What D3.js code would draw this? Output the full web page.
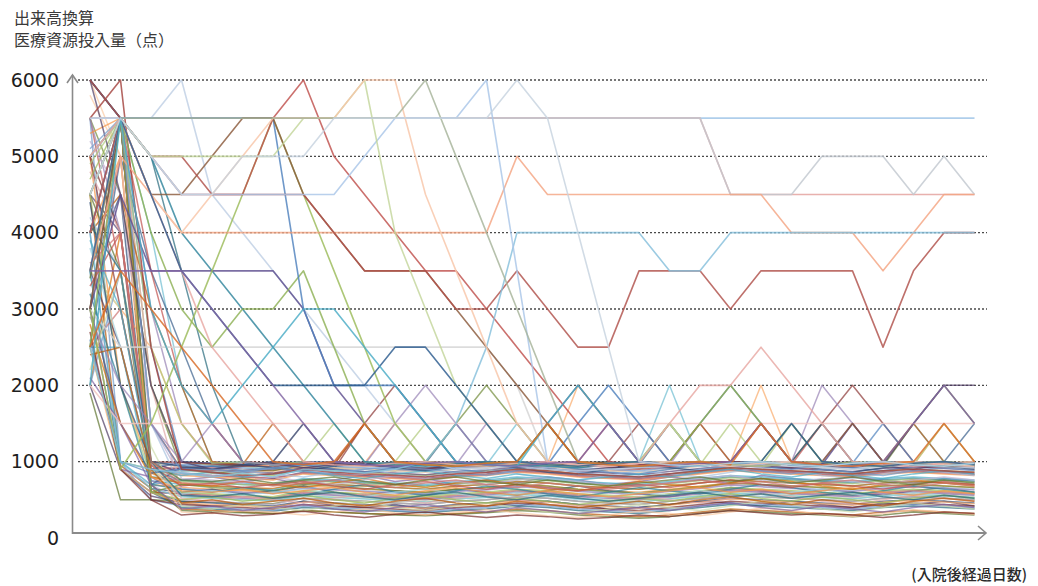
<!DOCTYPE html>
<html>
<head>
<meta charset="utf-8">
<script src="https://cdn.jsdelivr.net/npm/d3@7"></script>
<style>
  html, body { margin: 0; padding: 0; background: #fff; }
  svg { display: block; }
</style>
</head>
<body>
<svg id="chart" width="1038" height="586"></svg>
<script>
// Days since admission (x categories) and y-axis tick values
const days = [1,2,3,4,5,6,7,8,9,10,11,12,13,14,15,16,17,18,19,20,21,22,23,24,25,26,27,28,29,30];
const yTickValues = [0,1000,2000,3000,4000,5000,6000];
const yGridValues = [1000,2000,3000,4000,5000,6000];

// Patients whose resource use stays high for long stretches
const h01 = [5500,5500,5500,5500,5500,5500,5500,5500,5500,5500, 5500,5500,5500,5500,5500,5500,5500,5500,5500,5500, 5500,5500,5500,5500,5500,5500,5500,5500,5500,5500];
const h02 = [5500,5500,5500,5500,5500,5500,5500,5500,5500,5500, 5500,5500,5500,5500,5500,5500,5500,5500,5500,5500, 5500,4500,4500,4500,4500,4500,4500,4500,4500,4500];
const h13 = [5500,5500,5500,5500,5500,5500,5500,5500,5500,5500, 5500,5500,5500,5500,5500,5500,5500,5500,5500,5500, 5500,4500,4500,4500,5000,5000,5000,4500,5000,4500];
const h20 = [3000,2500,2500,2500,2500,2500,2500,2500,2500,2500, 2500,2500,2500,2500,2000,1000,960,940,980,1000, 960,940,980,1000,960,940,980,1000,960,940];
const h21 = [2000,1500,1500,1500,1500,1500,1500,1500,1500,1500, 1500,1500,1500,1500,1500,1500,1500,1500,1500,1500, 1500,1500,1500,1500,1500,1500,1500,1500,1500,1500];
const h03 = [5500,6000,2500,900,860,820,840,900,860,840, 820,800,840,860,900,880,840,820,800,840, 880,920,900,880,860,840,880,900,880,860];
const h04 = [5500,5500,5500,6000,4500,4000,3500,3000,2500,2000, 1500,1000,900,920,940,900,880,900,920,940, 960,980,960,940,920,900,940,960,940,920];
const h05 = [4500,5500,5000,4000,3500,3000,2500,2000,1500,1000, 960,940,980,1000,960,940,920,960,1000,980, 960,1000,1500,1000,960,940,980,1000,960,940];
const h06 = [3000,4500,3500,3500,3500,3500,3500,3000,2000,1500, 1000,980,960,940,980,1000,960,940,980,1000, 960,940,980,1000,960,1500,1000,960,940,980];
const h07 = [2500,5500,4000,3000,2500,3000,3000,3500,2500,1500, 1000,960,940,980,1000,1500,1000,960,980,1000, 1500,2000,1500,1000,960,980,1000,960,980,1000];
const h08 = [3000,900,1500,2500,3500,4500,5500,4500,3500,2500, 1500,1000,960,940,980,960,940,980,1000,1500, 1000,960,940,980,1000,960,940,980,1000,960];
const h09 = [4000,5500,5500,5500,5500,5500,5500,3000,2000,2000, 2000,1500,1000,960,1000,960,1500,2000,1500,1000, 960,980,1000,960,940,980,1000,960,940,980];
const h10 = [3000,5500,4500,4500,5000,5500,5500,4500,4000,3500, 3500,3500,3000,2500,2000,1500,1000,960,940,980, 1000,960,940,980,1000,1500,1000,960,940,960];
const h11 = [4000,5500,5000,4500,4500,4500,5500,6000,5000,4500, 4000,3500,3500,3000,2500,2000,1500,1000,960,940, 980,1000,1500,1000,960,940,980,1000,960,940];
const h12 = [3500,5000,4500,4000,4000,4000,4000,4000,4000,4000, 4000,4000,4000,4000,5000,4500,4500,4500,4500,4500, 4500,4500,4500,4000,4000,4000,3500,4000,4500,4500];
const h14 = [6000,5500,5000,5000,4500,4500,4500,4500,4000,3500, 3500,3500,3000,3000,3500,3000,2500,2500,3500,3500, 3500,3000,3500,3500,3500,3500,2500,3500,4000,4000];
const h15 = [2500,1000,900,850,800,850,800,900,880,850, 900,1000,1500,2500,4000,4000,4000,4000,4000,3500, 3500,4000,4000,4000,4000,4000,4000,4000,4000,4000];
const h16 = [5000,5500,5000,4500,4500,4500,4500,4500,4500,5000, 5500,5500,5500,6000,3500,1000,960,940,980,1000, 960,940,980,1000,960,940,980,1000,960,940];
const h17 = [4500,5500,5000,5000,5000,5000,5000,5500,5500,6000, 4000,3000,2000,1500,1000,960,940,980,1000,1500, 1000,960,940,980,1000,960,940,980,1000,960];
const h18 = [3500,5500,4500,4000,4500,5000,5500,5500,5500,6000, 6000,4500,3500,2500,1500,1000,960,940,980,1000, 960,940,980,1000,960,940,980,1000,960,940];
const h19 = [5000,5500,5500,5500,5500,5500,5500,5500,5500,5500, 5500,6000,5000,4000,3000,2000,1000,960,940,980, 1000,960,940,980,1000,960,940,980,1000,960];
const h22 = [5000,5500,4500,3500,2500,2000,1500,1000,960,940, 980,1000,960,940,980,1000,960,940,980,1500, 2000,2000,2500,2000,1500,1000,960,940,980,1000];
const h23 = [3500,5500,4500,3500,3000,2500,2000,2000,2000,2000, 2500,2500,2000,1500,1000,960,940,980,1000,960, 940,980,1000,1500,1000,960,940,980,1000,960];
const h24 = [2000,5500,3000,2000,1500,2000,2500,3000,3000,2500, 2000,1500,1000,960,940,1500,2000,1500,1000,960, 940,980,1000,960,940,980,1000,960,940,980];
const h25 = [3500,3500,3500,3500,3000,2500,2000,1500,1000,960, 940,980,1000,960,940,980,1000,1500,1000,960, 980,1000,1500,1000,960,940,1000,1500,2000,1500];
const h26 = [2500,3500,3000,2500,2000,1500,1000,960,1000,1500, 1000,960,940,980,1000,1500,1000,960,940,980, 1000,960,1500,1000,960,940,980,1000,1500,1000];
const h27 = [4500,5500,5000,4500,4500,5000,5000,5000,5500,5500, 5500,5500,5500,5500,6000,5500,4000,2500,1000,960, 940,980,1000,960,940,980,1000,960,940,980];

// Patients who settle into the low band after the first days
const l01 = [6000,5500,1000,950,980,960,1000,980,950,960, 980,1000,960,940,980,1000,960,940,960,980, 1000,980,960,980,1000,960,980,960,940,960];
const l02 = [5500,3500,900,920,940,900,880,950,920,900, 880,900,940,920,960,940,900,880,900,920, 960,980,940,920,900,940,960,940,920,950];
const l03 = [4500,5500,850,880,860,840,820,900,880,860, 840,820,860,880,900,880,840,820,800,840, 880,920,900,880,860,840,880,900,880,860];
const l04 = [3000,5500,800,760,800,740,780,700,760,820, 740,780,700,760,720,800,760,700,740,800, 760,720,820,780,740,800,760,720,780,740];
const l05 = [2500,2500,750,700,680,660,640,720,700,680, 660,640,680,700,740,720,680,660,640,680, 720,760,740,720,700,680,720,740,720,700];
const l06 = [4000,5000,700,660,640,620,600,680,660,640, 620,600,640,660,700,680,640,620,600,640, 680,720,700,680,660,640,680,700,680,660];
const l07 = [3500,4500,650,600,640,580,620,680,600,560, 620,580,640,600,560,620,680,620,580,540, 600,660,620,580,640,600,560,620,660,600];
const l08 = [5000,4000,600,580,560,540,520,600,580,560, 540,520,560,580,620,600,560,540,520,560, 600,640,620,600,580,560,600,620,600,580];
const l09 = [1900,500,500,480,470,460,450,520,500,480, 460,440,480,500,540,520,480,460,440,480, 520,560,540,520,500,480,520,540,520,500];
const l10 = [2000,900,550,460,420,440,400,480,430,400, 440,380,430,460,420,480,440,380,400,440, 480,460,420,480,440,400,460,440,480,420];
const l11 = [3500,900,600,400,380,360,350,400,380,360, 350,330,360,380,420,400,360,340,320,360, 400,440,420,400,380,360,400,420,400,380];
const l12 = [4500,950,650,380,360,340,320,360,340,320, 310,300,320,340,380,360,320,300,280,300, 340,380,360,340,320,300,340,360,340,320];
const l13 = [5500,1000,500,420,400,380,360,420,400,380, 360,340,380,400,440,420,380,360,340,380, 420,460,440,420,400,380,420,440,420,400];
const l14 = [2500,3000,950,900,920,940,960,980,960,1500, 1000,950,980,1000,960,940,920,960,1000,980, 960,1000,1500,1000,960,940,980,1000,960,980];
const l15 = [3000,5500,2000,1000,960,940,900,980,960,940, 1000,1500,1000,960,940,980,1000,960,940,980, 1000,960,940,1500,1000,960,980,1000,960,940];
const l16 = [4000,5500,3000,1500,1000,980,960,1000,980,1500, 1000,980,960,1500,1000,960,940,980,1000,960, 1500,1000,960,980,1000,1500,1000,980,960,980];
const l17 = [5000,5500,4000,2000,1000,960,1000,1500,1000,960, 940,980,1000,960,1500,1000,960,980,1000,2000, 1000,980,960,980,1000,960,980,1500,1000,960];
const l18 = [3500,3000,2500,1500,1000,940,960,1000,960,980, 1500,1000,980,960,1000,980,2000,1500,1000,960, 980,1000,2000,1000,960,980,1000,960,1500,1000];
const l19 = [2500,5000,3500,2500,1500,1000,960,980,1000,960, 1000,980,1500,1000,960,980,1000,980,960,1000, 1500,2000,1500,1000,980,960,1000,980,1000,1500];
const l20 = [6000,5500,1500,900,880,860,900,920,900,1500, 2000,1500,1000,940,920,960,980,1000,1500,1000, 960,940,980,1000,1500,2000,1500,1000,960,980];
const l21 = [5500,4500,2000,900,850,870,880,940,920,900, 880,1000,1500,2000,1500,1000,960,940,980,1000, 960,980,1000,1500,1000,960,940,1500,2000,1500];
const l22 = [4500,4000,1000,850,820,800,780,860,840,820, 800,780,820,840,880,860,820,800,780,820, 860,900,880,860,840,820,860,880,860,840];
const l23 = [3000,5500,900,750,720,700,690,760,740,720, 700,680,720,740,780,760,720,700,680,720, 760,800,780,760,740,720,760,780,760,740];
const l24 = [2000,4000,850,700,680,660,650,720,700,680, 660,640,680,700,740,720,680,660,640,680, 720,760,740,720,700,680,720,740,720,700];
const l25 = [5000,5500,1500,650,620,600,580,660,640,620, 600,580,620,640,680,660,620,600,580,620, 660,700,680,660,640,620,660,680,660,640];
const l26 = [4500,5500,2000,600,560,540,520,600,580,560, 540,520,560,580,620,600,560,540,520,560, 600,640,620,600,580,560,600,620,600,580];
const l27 = [3500,3000,1000,550,520,500,480,560,540,520, 500,480,520,540,580,560,520,500,480,520, 560,600,580,560,540,520,560,580,560,540];
const l28 = [4000,900,700,500,480,460,440,520,500,480, 460,440,480,500,540,520,480,460,440,480, 520,560,540,520,500,480,520,540,520,500];
const l29 = [5500,5500,800,880,860,900,940,960,920,900, 880,860,900,920,960,940,900,880,860,900, 940,980,960,940,920,900,940,960,940,920];
const l30 = [6000,5000,1000,920,900,880,860,940,920,900, 880,860,900,920,960,940,900,880,860,900, 940,980,960,940,920,900,940,960,940,920];
const l31 = [3500,5500,2500,1000,980,1000,960,1000,980,960, 940,1000,980,960,1000,1500,1000,960,940,980, 1000,960,980,1000,960,980,1500,1000,980,960];
const l32 = [4500,5500,3500,2000,1500,1000,980,960,1000,980, 960,1000,980,1000,960,980,1000,1500,1000,980, 960,1000,980,960,1500,1000,960,980,1000,960];
const l33 = [2500,1000,900,600,580,560,540,620,600,580, 560,540,580,600,640,620,580,560,540,580, 620,660,640,620,600,580,620,640,620,600];
const l34 = [3000,900,800,560,540,520,500,580,560,540, 520,500,540,560,600,580,540,520,500,540, 580,620,600,580,560,540,580,600,580,560];
const l35 = [4000,1000,700,760,740,720,700,780,760,740, 720,700,740,760,800,780,740,720,700,740, 780,820,800,780,760,740,780,800,780,760];
const l36 = [5000,2000,900,820,800,780,760,840,820,800, 780,760,800,820,860,840,800,780,760,800, 840,880,860,840,820,800,840,860,840,820];
const l37 = [6000,5500,600,480,460,440,420,480,460,440, 420,400,440,460,500,480,440,420,400,440, 480,520,500,480,460,440,480,500,480,460];
const l38 = [5500,5500,500,440,420,400,380,440,420,400, 380,360,400,420,460,440,400,380,360,400, 440,480,460,440,420,400,440,460,440,420];
const l39 = [4500,3500,700,360,340,330,320,360,340,320, 300,290,310,330,360,340,300,280,260,280, 320,360,340,320,300,280,300,340,320,300];
const l40 = [3500,2500,900,1000,980,960,1000,1500,1000,960, 980,1000,960,980,1000,1500,2000,1500,1000,980, 960,980,1000,960,980,1000,960,1500,2000,2000];
const l41 = [5000,5500,5000,3500,2000,1000,960,980,1000,960, 980,1000,960,980,1000,960,980,1000,960,1500, 1000,960,980,1000,1500,1000,960,980,1000,960];
const l42 = [4000,4500,3000,2000,1000,960,1500,1000,960,1500, 1000,980,960,1000,980,960,1000,980,960,1000, 1500,1000,960,980,1000,960,1000,1500,1000,960];
const l43 = [2000,3500,950,960,940,920,900,960,940,920, 900,880,920,940,980,960,920,900,880,920, 960,1000,980,960,940,920,960,980,960,940];
const l44 = [3000,5000,900,840,820,800,790,850,830,810, 790,770,810,830,870,850,810,790,770,810, 850,890,870,850,830,810,850,870,850,830];
const l45 = [4500,2000,800,740,720,700,690,750,730,710, 690,670,710,730,770,750,710,690,670,710, 750,790,770,750,730,710,750,770,750,730];
const l46 = [5500,4000,750,640,620,600,590,650,630,610, 590,570,610,630,670,650,610,590,570,610, 650,690,670,650,630,610,650,670,650,630];
const l47 = [3500,1000,650,540,520,500,490,550,530,510, 490,470,510,530,570,550,510,490,470,510, 550,590,570,550,530,510,550,570,550,530];
const l48 = [2500,900,600,460,440,420,410,470,450,430, 410,390,430,450,490,470,430,410,390,430, 470,510,490,470,450,430,470,490,470,450];
const l49 = [6000,5500,700,920,940,960,980,1000,980,960, 940,920,960,980,1000,980,960,940,920,960, 980,1000,1000,980,960,940,980,1000,980,960];
const l50 = [5000,3000,1000,990,970,950,930,990,970,950, 930,910,950,970,990,970,950,930,910,950, 990,1000,990,970,950,930,970,990,970,950];
const l51 = [4000,5500,600,700,660,640,620,700,680,650, 620,600,640,660,700,680,640,610,590,630, 670,720,700,680,660,640,680,700,680,660];
const l52 = [3000,1500,850,920,900,870,850,920,900,870, 850,830,870,890,930,910,870,850,830,870, 910,950,930,910,890,870,910,930,910,890];
const l53 = [3200,2000,700,640,600,660,620,560,640,700, 600,560,620,680,640,580,540,600,660,620, 580,640,700,660,600,560,620,680,640,600];
const l54 = [2800,1500,800,720,680,740,700,660,720,780, 700,660,720,760,700,640,620,680,740,700, 660,720,780,740,680,640,700,760,720,680];
const l55 = [4200,3500,900,860,820,880,840,800,860,900, 840,800,860,900,840,780,760,820,880,840, 800,860,920,880,820,780,840,900,860,820];
const l56 = [4800,4000,1000,520,480,540,500,460,520,580, 500,460,520,560,500,440,420,480,540,500, 460,520,580,540,480,440,500,560,520,480];
const l57 = [2200,3500,1200,420,380,440,400,360,420,480, 400,360,420,460,400,340,320,380,440,400, 360,420,480,440,380,340,400,460,420,380];
const l58 = [5200,4500,1500,780,760,720,800,740,700,760, 820,780,740,700,760,800,740,700,680,720, 780,820,760,720,780,740,700,760,800,760];
const l59 = [3800,2500,900,580,620,560,600,640,580,540, 600,640,580,540,600,560,500,540,600,560, 620,580,540,600,640,580,540,600,560,520];
const l60 = [5800,5000,1000,340,320,360,340,300,340,380, 330,300,340,370,330,290,270,300,350,320, 290,340,390,360,310,280,320,370,340,310];
const l61 = [2600,1000,850,900,940,880,920,960,900,860, 920,960,900,860,920,960,900,860,840,900, 960,1000,940,900,960,920,880,940,980,940];
const l62 = [3300,4000,950,680,720,660,700,740,680,640, 700,740,680,640,700,660,620,660,700,660, 720,760,700,660,720,680,640,700,740,700];
const l63 = [4700,5500,600,500,540,480,520,560,500,460, 520,560,500,460,520,480,440,480,520,480, 540,580,520,480,540,500,460,520,560,520];
const l64 = [2100,1500,700,380,420,360,400,440,380,340, 400,440,380,340,400,360,320,360,400,360, 420,460,400,360,420,380,340,400,440,400];
const l65 = [3900,3000,900,820,860,800,840,880,820,780, 840,880,820,780,840,800,760,800,840,800, 860,900,840,800,860,820,780,840,880,840];
const l66 = [5300,5500,800,620,600,640,580,620,660,600, 560,620,660,600,560,620,580,540,580,620, 660,600,640,580,620,660,600,560,620,580];
const l67 = [4400,2000,1000,940,900,960,920,880,940,980, 920,880,940,980,920,860,840,900,960,920, 880,940,1000,960,900,860,920,980,940,900];
const l68 = [2700,900,500,300,330,290,310,350,300,270, 310,340,300,270,300,280,250,270,300,280, 320,360,330,300,320,300,270,300,340,320];
const l69 = [3400,5500,1000,760,740,780,720,760,800,740, 700,760,800,740,700,760,720,680,720,760, 800,740,780,720,760,800,740,700,760,720];
const l70 = [6000,4500,2000,1000,900,940,980,920,960,1000, 940,900,960,1000,940,900,880,920,960,940, 980,1000,960,920,960,1000,940,900,960,920];
const l71 = [4100,3500,1000,560,540,580,520,560,600,540, 500,560,600,540,500,560,520,480,520,560, 600,540,580,520,560,600,540,500,560,520];
const l72 = [2400,2500,900,460,500,440,480,520,460,420, 480,520,460,420,480,440,400,440,480,440, 500,540,480,440,500,460,420,480,520,480];
const l73 = [5100,5500,1500,880,900,860,920,880,840,900, 940,900,860,820,880,920,860,820,800,840, 900,940,880,840,900,860,820,880,920,880];
const l74 = [3600,4000,1000,720,700,740,680,720,760,700, 660,720,760,700,660,720,680,640,680,720, 760,700,740,680,720,760,700,660,720,680];
const l75 = [4900,5500,2500,1500,980,1000,960,1000,1500,1000, 960,980,1000,960,980,1500,1000,960,980,1000, 960,1500,1000,980,960,1000,980,960,1500,1000];
const l76 = [2900,2000,1500,1000,1500,1000,960,980,1000,960, 1500,2000,1500,1000,960,980,1000,960,1000,1500, 1000,960,980,1000,2000,1500,1000,960,980,1000];

const lowPatients = [l01,l02,l03,l04,l05,l06,l07,l08,l09,l10,l11,l12,l13,l14,l15,l16,l17,l18,l19,l20,
  l21,l22,l23,l24,l25,l26,l27,l28,l29,l30,l31,l32,l33,l34,l35,l36,l37,l38,l39,l40,
  l41,l42,l43,l44,l45,l46,l47,l48,l49,l50,l51,l52,l53,l54,l55,l56,l57,l58,l59,l60,
  l61,l62,l63,l64,l65,l66,l67,l68,l69,l70,l71,l72,l73,l74,l75,l76];
const highPatients = [h01,h02,h13,h20,h21,h03,h04,h05,h06,h07,h08,h09,h10,h11,h12,h14,h15,h16,h17,h18,h19,h22,h23,h24,h25,h26,h27];

// Line colours (Office-style palette with shades and tints)
const lowColors = ['#4F81BD','#C0504D','#9BBB59','#8064A2','#4BACC6','#F79646','#2C4D75','#772C2A','#5F7530','#4D3B62',
  '#276A7C','#B65708','#729ACA','#CD7371','#AFC97A','#9983B5','#6FBDD1','#F9AB6B','#3A5F8B','#8C3836',
  '#728C3A','#5D4776','#2F7F95','#D9700D','#A7C0DE','#DFA7A6','#CDDDAC','#BFB1D0','#A5D5E2','#FBCBA2'];
const highColors = ['#9DC3E6','#E3A09C','#C2C8CF','#D4D4D4','#F2C4C0','#A3433E','#BFD0E4','#31859C','#5E4E8F','#8DB156',
  '#9BBB59','#4F81BD','#8B5A3C','#C0504D','#F4A582','#B0504A','#86BFDC','#A9C6E8','#C3D69B','#F8C6A8',
  '#A6B39A','#E8A8A4','#2C5C8F','#4BACC6','#8064A2','#D86B27','#C7D3DF'];

const svg = d3.select('#chart');
const W = 1038, H = 586;
svg.append('rect').attr('width', W).attr('height', H).attr('fill', '#fff');

const x = d3.scaleLinear().domain([1, 30]).range([90, 974.5]);
const y = d3.scaleLinear().domain([0, 6000]).range([538, 80]);

// dotted horizontal gridlines
svg.append('g').selectAll('line').data(yGridValues).join('line')
  .attr('x1', 78).attr('x2', 987)
  .attr('y1', d => y(d)).attr('y2', d => y(d))
  .attr('stroke', '#4a4a4a').attr('stroke-width', 1.4)
  .attr('stroke-dasharray', '2,2');

const line = d3.line().x((d, i) => x(days[i])).y(d => y(d));

const plot = svg.append('g');
plot.selectAll('path.low').data(lowPatients).join('path')
  .attr('class', 'low')
  .attr('d', line)
  .attr('fill', 'none')
  .attr('stroke', (d, i) => lowColors[i % lowColors.length])
  .attr('stroke-width', 1.5)
  .attr('stroke-opacity', 0.7)
  .attr('stroke-linejoin', 'round');

plot.selectAll('path.high').data(highPatients).join('path')
  .attr('class', 'high')
  .attr('d', line)
  .attr('fill', 'none')
  .attr('stroke', (d, i) => highColors[i])
  .attr('stroke-width', 1.6)
  .attr('stroke-opacity', 0.82)
  .attr('stroke-linejoin', 'round');

// axes with arrow heads
const axisColor = '#8a8a8a';
svg.append('line').attr('x1', 72.5).attr('x2', 72.5).attr('y1', 534).attr('y2', 75)
  .attr('stroke', axisColor).attr('stroke-width', 1.6);
svg.append('path').attr('d', 'M67,83 L72.5,75 L78,83')
  .attr('fill', 'none').attr('stroke', axisColor).attr('stroke-width', 1.6);
svg.append('line').attr('x1', 72).attr('x2', 986).attr('y1', 533).attr('y2', 533)
  .attr('stroke', axisColor).attr('stroke-width', 2);
svg.append('path').attr('d', 'M978,526 L986,533 L978,540')
  .attr('fill', 'none').attr('stroke', axisColor).attr('stroke-width', 1.6);

// y tick labels
const yAxis = d3.axisLeft(y).tickValues(yTickValues).tickSize(0).tickPadding(13).tickFormat(d3.format('d'));
const yg = svg.append('g').attr('transform', 'translate(72,0)').call(yAxis);
yg.select('.domain').remove();
yg.selectAll('text')
  .attr('font-family', '"DejaVu Sans", Verdana, sans-serif')
  .attr('font-size', 19)
  .attr('fill', '#1e1e1e');

// titles
const cjk = '"Noto Sans CJK JP", "Noto Sans CJK SC", sans-serif';
svg.append('text').attr('x', 14).attr('y', 24).text('出来高換算')
  .attr('font-family', cjk).attr('font-size', 16).attr('fill', '#3a3a3a');
svg.append('text').attr('x', 14).attr('y', 46).text('医療資源投入量（点）')
  .attr('font-family', cjk).attr('font-size', 16).attr('fill', '#3a3a3a');
svg.append('text').attr('x', 1027).attr('y', 580).attr('text-anchor', 'end').text('(入院後経過日数)')
  .attr('font-family', cjk).attr('font-size', 15).attr('font-weight', 500).attr('fill', '#2a2a2a');
</script>
</body>
</html>
